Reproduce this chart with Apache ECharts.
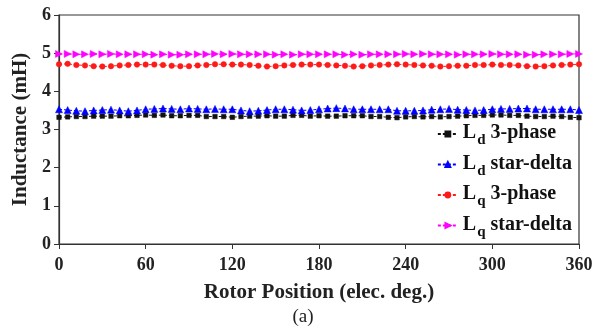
<!DOCTYPE html>
<html>
<head>
<meta charset="utf-8">
<script src="https://cdn.jsdelivr.net/npm/echarts@6/dist/echarts.min.js"></script>
<style>
  html, body { margin: 0; padding: 0; background: #fff; }
  #chart { width: 606px; height: 330px; }
</style>
</head>
<body>
<div id="chart"></div>
<script>
// rotor position, 0..360 elec. deg in 6 deg steps
var positions = [];
for (var p = 0; p <= 360; p += 6) positions.push(p);

var ldThreePhase = [
  3.32, 3.33, 3.34, 3.34, 3.35, 3.35, 3.35, 3.36, 3.36, 3.37, 3.38, 3.37, 3.38, 3.36, 3.36,
  3.37, 3.37, 3.34, 3.34, 3.34, 3.32, 3.34, 3.35, 3.35, 3.36, 3.35, 3.35, 3.37, 3.37, 3.35,
  3.36, 3.35, 3.35, 3.36, 3.36, 3.36, 3.34, 3.34, 3.32, 3.31, 3.33, 3.34, 3.33, 3.34, 3.33, 3.34,
  3.35,
  3.36, 3.37, 3.37, 3.38, 3.38, 3.37, 3.37, 3.35, 3.34, 3.34, 3.35, 3.34, 3.32, 3.31
];
var ldStarDelta = [
  3.53, 3.51, 3.49, 3.48, 3.50, 3.51, 3.52, 3.50, 3.48, 3.50, 3.53, 3.54, 3.55, 3.54, 3.53,
  3.55, 3.54, 3.53, 3.54, 3.53, 3.53, 3.50, 3.48, 3.49, 3.51, 3.53, 3.53, 3.52, 3.50, 3.51,
  3.53, 3.55, 3.56, 3.55, 3.53, 3.53, 3.53, 3.53, 3.53, 3.49, 3.49, 3.49, 3.50, 3.52, 3.53, 3.54,
  3.52,
  3.51, 3.50, 3.51, 3.53, 3.54, 3.54, 3.55, 3.55, 3.53, 3.53, 3.53, 3.53, 3.53, 3.51
];
var lqThreePhase = [
  4.71, 4.72, 4.69, 4.68, 4.66, 4.65, 4.66, 4.68, 4.69, 4.70, 4.70, 4.70, 4.69, 4.67, 4.66,
  4.66, 4.68, 4.69, 4.71, 4.71, 4.70, 4.70, 4.69, 4.67, 4.65, 4.66, 4.68, 4.69, 4.70, 4.70,
  4.70, 4.69, 4.68, 4.67, 4.65, 4.66, 4.68, 4.69, 4.70, 4.71, 4.70, 4.69, 4.68, 4.67, 4.65, 4.66,
  4.67,
  4.67, 4.69, 4.69, 4.70, 4.69, 4.69, 4.68, 4.66, 4.65, 4.66, 4.68, 4.69, 4.70, 4.71
];
var lqStarDelta = [
  4.98, 4.98, 4.97, 4.97, 4.98, 4.97, 4.98, 4.97, 4.97, 4.97, 4.97, 4.96, 4.97, 4.96, 4.96,
  4.97, 4.97, 4.97, 4.98, 4.97, 4.98, 4.97, 4.97, 4.97, 4.97, 4.96, 4.97, 4.96, 4.97, 4.97,
  4.97, 4.97, 4.97, 4.96, 4.97, 4.96, 4.97, 4.97, 4.97, 4.97, 4.98, 4.97, 4.98, 4.97, 4.97,
  4.97, 4.96, 4.97, 4.97, 4.97, 4.98, 4.97, 4.97, 4.97, 4.96, 4.96, 4.97, 4.97, 4.97, 4.98,
  4.98
];

var seriesNames = ['Ld 3-phase', 'Ld star-delta', 'Lq 3-phase', 'Lq star-delta'];
var xTicks = [0, 60, 120, 180, 240, 300, 360];

var font = 'Liberation Serif';

function pairs(values) {
  return values.map(function (v, i) { return [positions[i], v]; });
}

function lineSeries(name, values, color, symbol, size, rotate) {
  return {
    name: name,
    type: 'line',
    data: pairs(values),
    symbol: symbol,
    symbolSize: size,
    symbolRotate: rotate || 0,
    showAllSymbol: true,
    lineStyle: { color: color, width: 1, type: [3, 2] },
    itemStyle: { color: color, borderColor: color, borderWidth: 0.5 },
    emphasis: { disabled: true },
    animation: false
  };
}

var myChart = echarts.init(document.getElementById('chart'));
myChart.setOption({
  backgroundColor: '#fff',
  textStyle: { fontFamily: font },
  grid: {
    left: 59, right: 27, top: 15, bottom: 86,
    show: true, borderColor: '#333', borderWidth: 1.2
  },
  legend: {
    orient: 'vertical',
    right: 29,
    top: 118,
    itemGap: 5.5,
    itemWidth: 20,
    itemHeight: 6,
    data: seriesNames,
    formatter: function (name) {
      var parts = name.split(' ');
      return '{l|' + parts[0].charAt(0) + '}{s|' + parts[0].charAt(1) + '}{t| ' + parts[1] + '}';
    },
    textStyle: {
      fontFamily: font,
      rich: {
        l: { fontFamily: font, fontSize: 20, fontWeight: 'bold', color: '#111', lineHeight: 22, verticalAlign: 'top' },
        s: { fontFamily: font, fontSize: 15, fontWeight: 'bold', color: '#111', lineHeight: 22, padding: [10, 0, 0, 1], verticalAlign: 'top' },
        t: { fontFamily: font, fontSize: 20, fontWeight: 'bold', color: '#111', lineHeight: 22, verticalAlign: 'top' }
      }
    }
  },
  xAxis: {
    type: 'value',
    min: 0, max: 360, interval: 60,
    name: 'Rotor Position (elec. deg.)',
    nameLocation: 'middle',
    nameGap: 38,
    nameTextStyle: { fontFamily: font, fontSize: 21, fontWeight: 'bold', color: '#222' },
    axisLine: { show: true, onZero: false, lineStyle: { color: '#333', width: 1.2 } },
    axisTick: { show: true, length: 5, lineStyle: { color: '#333' } },
    axisLabel: {
      fontFamily: font, fontSize: 18, fontWeight: 'bold', color: '#222', margin: 12,
      formatter: function (v) { return xTicks.indexOf(v) >= 0 ? String(v) : ''; }
    },
    splitLine: { show: false }
  },
  yAxis: {
    type: 'value',
    min: 0, max: 6, interval: 1,
    name: 'Inductance (mH)',
    nameLocation: 'middle',
    nameGap: 22,
    nameTextStyle: { fontFamily: font, fontSize: 21, fontWeight: 'bold', color: '#222' },
    axisLine: { show: true, lineStyle: { color: '#333', width: 1.2 } },
    axisTick: { show: true, length: 5, lineStyle: { color: '#333' } },
    axisLabel: { fontFamily: font, fontSize: 18, fontWeight: 'bold', color: '#222', margin: 8 },
    splitLine: { show: false }
  },
  graphic: [{
    type: 'text',
    left: 'center',
    top: 308,
    style: { text: '(a)', fontFamily: font, fontSize: 19, fill: '#222' }
  }],
  series: [
    lineSeries(seriesNames[0], ldThreePhase, '#111', 'rect', 4.5),
    lineSeries(seriesNames[1], ldStarDelta, '#0000ff', 'triangle', 7),
    lineSeries(seriesNames[2], lqThreePhase, '#ff1a1a', 'circle', 5.5),
    lineSeries(seriesNames[3], lqStarDelta, '#ff00ff', 'triangle', 7, -90)
  ]
});
</script>
</body>
</html>
